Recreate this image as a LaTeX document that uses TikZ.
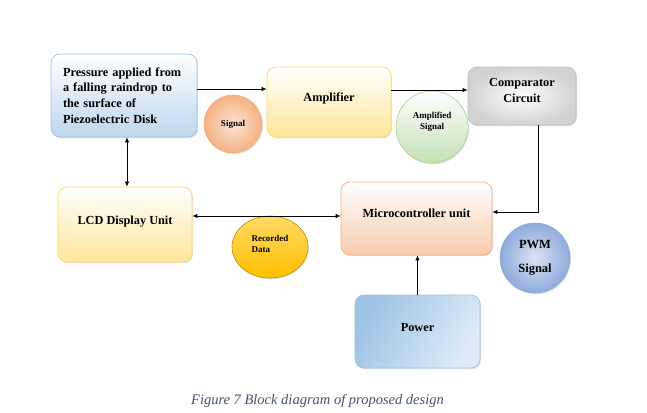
\documentclass[tikz,border=0pt]{standalone}
\usepackage{fontspec}
\setmainfont{Liberation Serif}
\usetikzlibrary{shadows,arrows.meta,calc,shapes.geometric}
\definecolor{capc}{HTML}{44546A}
\definecolor{bluel}{RGB}{189,215,238}
\definecolor{blueb}{RGB}{157,195,230}
\definecolor{bluevl}{RGB}{222,235,247}
\definecolor{yelb}{RGB}{255,217,102}
\definecolor{yell}{RGB}{255,230,153}
\definecolor{peachb}{RGB}{244,177,131}
\definecolor{peachl}{RGB}{248,203,173}
\definecolor{peachvl}{RGB}{252,228,214}
\definecolor{greenb}{RGB}{169,209,142}
\definecolor{greenl}{RGB}{197,224,180}
\definecolor{pwmb}{RGB}{143,170,220}
\definecolor{pwml}{RGB}{218,227,243}
\definecolor{goldb}{RGB}{191,144,0}
\definecolor{goldl}{RGB}{255,217,102}
\definecolor{gold}{RGB}{255,192,0}
\tikzset{
  box/.style={rounded corners=9pt, draw, line width=0.7pt, font=\bfseries\fontsize{12.3}{15.6}\selectfont,
    align=center, inner sep=2pt,
    drop shadow={shadow xshift=1pt, shadow yshift=-1.2pt, opacity=0.25, fill=gray}},
  bubble/.style={circle, draw, line width=0.6pt, font=\bfseries\fontsize{9}{10.5}\selectfont, align=center, inner sep=0pt,
    drop shadow={shadow xshift=1pt, shadow yshift=-1.2pt, opacity=0.25, fill=gray}},
  conn/.style={line width=0.8pt, -{Latex[length=5pt,width=4.5pt]}},
  dconn/.style={line width=0.8pt, {Latex[length=5pt,width=4.5pt]}-{Latex[length=5pt,width=4.5pt]}}
}
\begin{document}
\begin{tikzpicture}[x=1pt,y=-1pt]
\useasboundingbox (0,0) rectangle (647,412);
% boxes
\node[box, minimum width=146pt, minimum height=83pt, text width=122pt, align=left,
  draw=blueb, top color=white, bottom color=bluel]
  (press) at (124,95.5) {Pressure applied from\\ a falling raindrop to\\ the surface of\\ Piezoelectric Disk\\[-9pt]};
\node[box, minimum width=124pt, minimum height=70pt, text depth=10pt,
  draw=yelb, top color=white, bottom color=yell]
  (amp) at (329,102) {Amplifier};
\node[box, minimum width=108pt, minimum height=58pt,
  draw=gray!50, inner color=white, outer color=gray!35]
  (comp) at (522,96) {Comparator\\ Circuit\\[-4pt]};
\node[box, minimum width=134pt, minimum height=75pt, text depth=9pt,
  draw=yelb, top color=white, bottom color=yell]
  (lcd) at (125,224.5) {LCD Display Unit};
\node[box, minimum width=151pt, minimum height=73pt, text depth=11pt,
  draw=peachb, top color=white, bottom color=peachl]
  (micro) at (416.5,218.5) {Microcontroller unit};
\node[box, minimum width=125pt, minimum height=73pt, text depth=9pt,
  draw=blueb, left color=blueb, right color=bluevl, shading angle=60]
  (power) at (417.5,331.5) {Power};
% bubbles
\node[bubble, minimum size=58pt, draw=peachb, inner color=peachvl, outer color=peachb]
  (sig) at (233,124) {Signal};
\node[bubble, minimum size=72pt, draw=greenb, top color=white, bottom color=greenl]
  (asig) at (432,127) {Amplified\\ Signal\\[2pt]};
\node[bubble, minimum size=70pt, font=\bfseries\fontsize{12.5}{24}\selectfont, draw=pwmb,
  inner color=pwml, outer color=pwmb]
  (pwm) at (535,258) {PWM\\ Signal};
\node[bubble, ellipse, minimum width=76pt, minimum height=62pt, align=left, draw=goldb,
  top color=goldl, bottom color=gold]
  (rec) at (270,247) {Recorded\\ Data\\[-4pt]};
% connectors
\draw[conn] ([yshift=6.5pt]press.east) -- ([yshift=6.5pt]press.east -| amp.west);
\draw[conn] ([yshift=12pt]amp.east) -- ([yshift=12pt]amp.east -| comp.west);
\draw[conn] ([xshift=16pt]comp.south) |- ([yshift=6.5pt]micro.east);
\draw[conn] (power.north) -- (power.north |- micro.south);
\draw[dconn] ([yshift=8.5pt]lcd.east) -- ([yshift=8.5pt]lcd.east -| micro.west);
\draw[dconn] ([xshift=3pt]press.south) -- ([xshift=3pt]press.south |- lcd.north);
% caption
\node[font=\itshape\fontsize{14.5}{16}\selectfont, text=capc] (cap) at (317.5,401) {Figure 7 Block diagram of proposed design};
\end{tikzpicture}
\end{document}
